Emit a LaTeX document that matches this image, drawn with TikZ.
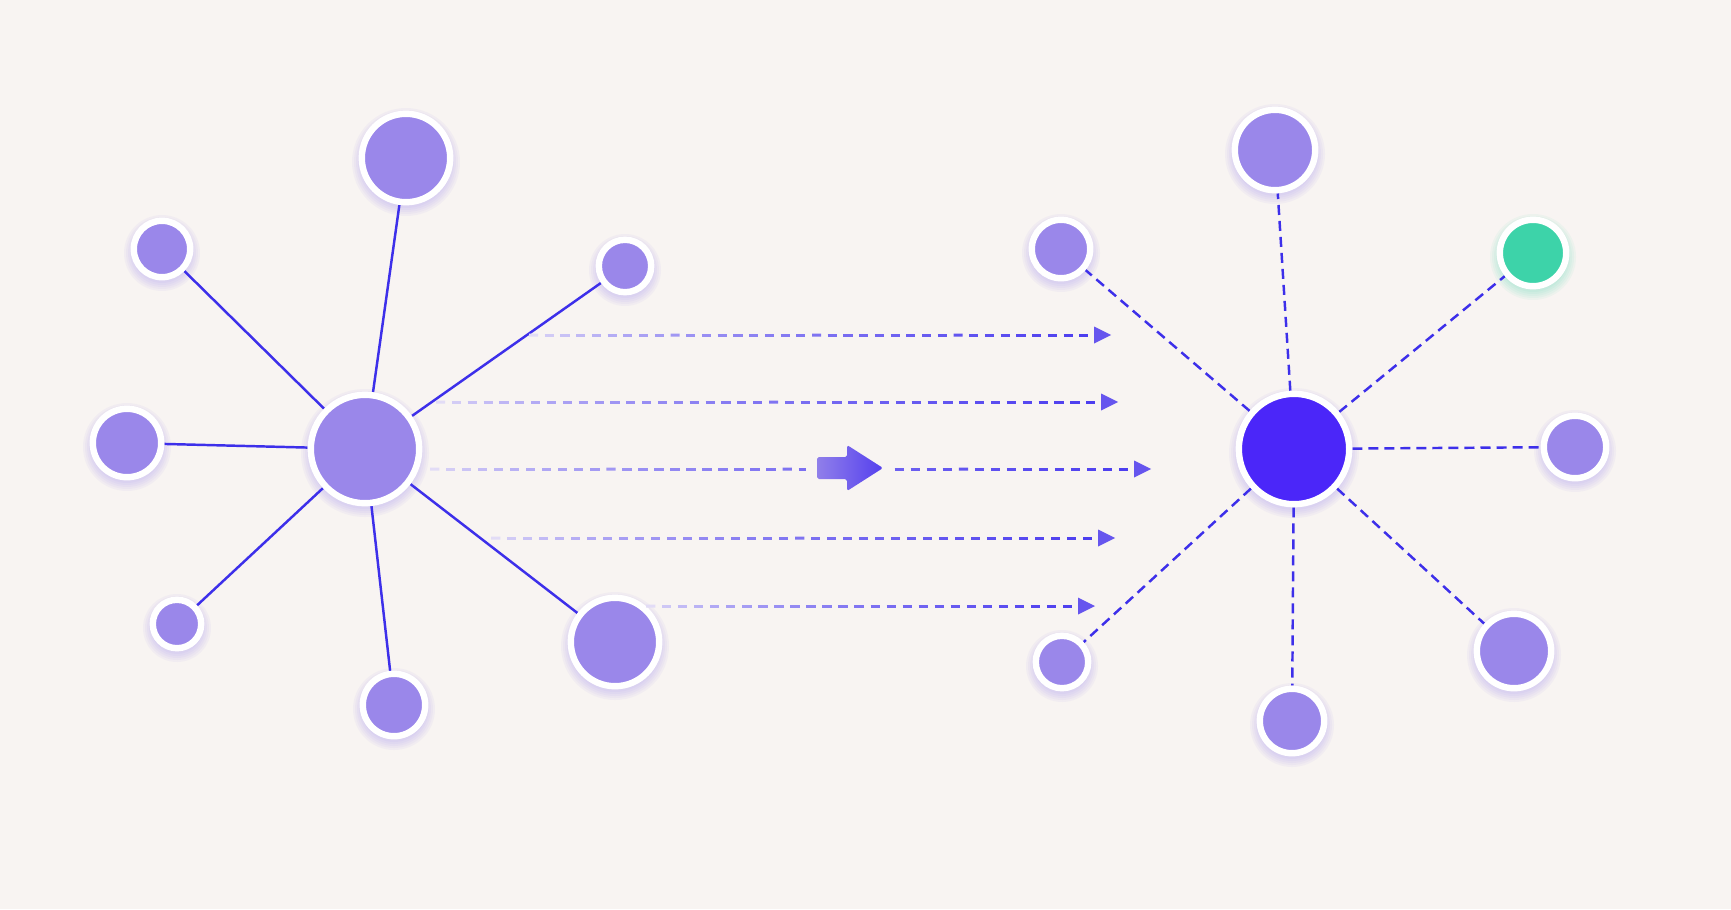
\documentclass[tikz,border=0pt]{standalone}
\usetikzlibrary{calc,arrows.meta}
\pgfdeclarelayer{bgl}\pgfdeclarelayer{glow}\pgfdeclarelayer{lines}
\pgfsetlayers{bgl,glow,lines,main}
\definecolor{bgc}{HTML}{F8F4F2}
\definecolor{nodec}{HTML}{9A87EA}
\definecolor{hubc}{HTML}{4B26F9}
\definecolor{greenc}{HTML}{3DD3A9}
\definecolor{linec}{HTML}{3D2FEA}
\definecolor{dashstart}{HTML}{E2DCF6}
\definecolor{dashend}{HTML}{4A3BEF}
\definecolor{headc}{HTML}{6655EE}
\definecolor{glowp}{HTML}{8F78F0}
\definecolor{glowg}{HTML}{3DD3A9}
\definecolor{bigl}{HTML}{907FEA}
\definecolor{bigr}{HTML}{5540EE}
\tikzset{
  bub/.style={circle, draw=white, line width=0.064cm, inner sep=0pt},
  spoke/.style={linec, line width=0.7pt},
  dspoke/.style={linec, line width=0.7pt, dash pattern=on 0.1cm off 0.06cm},
  gdash/.style={line width=0.85pt, line cap=butt},
}
\newcommand{\bubble}[6]{%
  \begin{pgfonlayer}{glow}
    \foreach \k in {2,4,6,8,10}
      \fill[#6, opacity=0.06] (#2,#3+4) circle[radius={(#4+3+\k)*0.01cm}];
  \end{pgfonlayer}
  \node[bub, fill=#5, minimum size={(2*#4+6.4)*0.01cm}] (#1) at (#2,#3) {};
}
\newcommand{\gradarrow}[2]{%
  \coordinate (#1d) at ($(#1e)+(-16,0)$);
  \foreach \i in {1,...,#2}{
    \pgfmathsetmacro{\ta}{(\i-1)/#2}
    \pgfmathsetmacro{\tb}{(\i-1+0.58)/#2}
    \pgfmathtruncatemacro{\pc}{min(100,100*(\ta)^0.6)}
    \draw[gdash, color=dashend!\pc!dashstart] ($(#1s)!\ta!(#1d)$) -- ($(#1s)!\tb!(#1d)$);
  }
  \fill[headc] (#1e) -- ++(-17,-8.5) -- ++(0,17) -- cycle;
}
\begin{document}
\begin{tikzpicture}[x=0.01cm,y=-0.01cm]
\begin{pgfonlayer}{bgl}
\fill[bgc] (0,0) rectangle (1731,909);
\end{pgfonlayer}
\useasboundingbox (0,0) rectangle (1731,909);

% left cluster
\bubble{L0}{365}{449}{51}{nodec}{glowp}
\bubble{L1}{406}{158}{41}{nodec}{glowp}
\bubble{L2}{162}{249}{25}{nodec}{glowp}
\bubble{L3}{625}{266}{23}{nodec}{glowp}
\bubble{L4}{127}{443}{31}{nodec}{glowp}
\bubble{L5}{177}{624}{21}{nodec}{glowp}
\bubble{L6}{394}{705}{28}{nodec}{glowp}
\bubble{L7}{615}{642}{41}{nodec}{glowp}

% right cluster
\bubble{R0}{1294}{449}{52}{hubc}{glowp}
\bubble{R1}{1275}{150}{37}{nodec}{glowp}
\bubble{R2}{1061}{249}{26}{nodec}{glowp}
\bubble{R3}{1533}{253}{30}{greenc}{glowg}
\bubble{R4}{1575}{447}{28}{nodec}{glowp}
\bubble{R5}{1514}{651}{34}{nodec}{glowp}
\bubble{R6}{1292}{721}{29}{nodec}{glowp}
\bubble{R7}{1062}{662}{23}{nodec}{glowp}

\begin{pgfonlayer}{lines}
  \foreach \n in {L1,L2,L3,L4,L5,L6,L7} \draw[spoke] (L0) -- (\n);
  \foreach \n in {R1,R2,R3,R4,R5,R6,R7} \draw[dspoke] (R0) -- (\n);
\end{pgfonlayer}

% transfer arrows
\coordinate (a1s) at (529,335); \coordinate (a1e) at (1111,335);
\coordinate (a2s) at (436,402); \coordinate (a2e) at (1118,402);
\coordinate (a3s) at (430,469); \coordinate (a3e) at (1151,469);
\coordinate (a4s) at (491,538); \coordinate (a4e) at (1115,538);
\coordinate (a5s) at (646,606); \coordinate (a5e) at (1095,606);
\gradarrow{a1}{36}
\gradarrow{a2}{42}
\gradarrow{a3}{44}
\gradarrow{a4}{38}
\gradarrow{a5}{27}

% big arrow
\fill[bgc] (806,462) rectangle (893,476);
\shade[left color=bigl, right color=bigr, rounded corners=0.5pt]
  (817,457) -- (847,457) -- (847,445) -- (883,468) -- (847,491) -- (847,479) -- (817,479) -- cycle;
\end{tikzpicture}
\end{document}
